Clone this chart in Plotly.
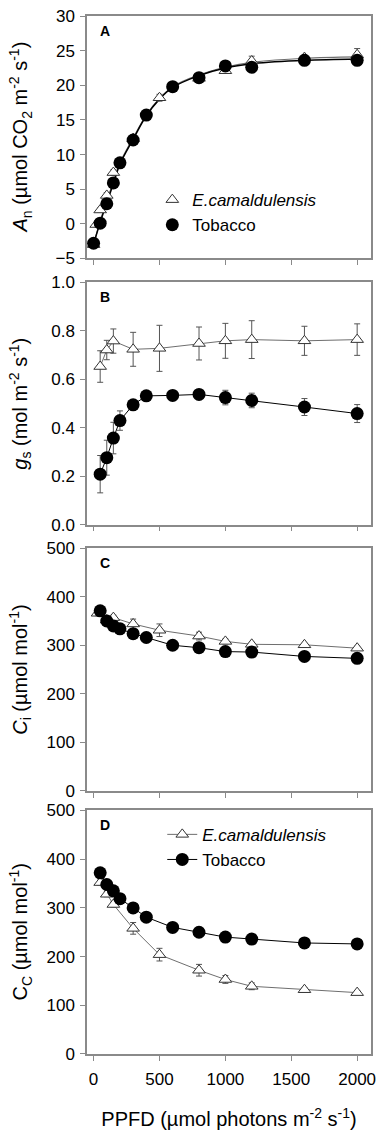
import plotly.graph_objects as go

# ---------------- data ----------------
tick_ppfd = [0, 500, 1000, 1500, 2000]

# Panel A: net assimilation
ppfd_tob_a = [0, 50, 100, 150, 200, 300, 400, 600, 800, 1000, 1200, 1600, 2000]
an_tob = [-2.8, 0.1, 2.9, 5.9, 8.8, 12.1, 15.7, 19.8, 21.1, 22.8, 22.6, 23.6, 23.6]
an_tob_err = [0.3, 0.3, 0.3, 0.3, 0.3, 0.3, 0.3, 0.3, 0.4, 0.4, 0.4, 0.3, 0.3]
ppfd_euc_a = [0, 20, 50, 100, 150, 300, 500, 800, 1000, 1200, 1600, 2000]
an_euc = [-3.0, -0.1, 2.0, 4.1, 7.4, 12.3, 18.2, 21.0, 22.1, 23.5, 24.0, 24.4]
an_euc_err = [0.3, 0.3, 0.3, 0.4, 0.4, 0.4, 0.5, 0.6, 0.4, 0.7, 0.3, 0.9]
# fitted light-response curves
fit_ppfd = [0, 50, 100, 150, 200, 300, 400, 500, 600, 800, 1000, 1200, 1600, 2000]
fit_tob = [-2.9, 0.2, 3.0, 5.8, 8.6, 12.2, 15.6, 18.0, 19.7, 21.4, 22.5, 23.1, 23.6, 23.8]
fit_euc = [-3.0, 0.4, 3.3, 6.1, 8.8, 12.4, 15.7, 18.1, 19.8, 21.5, 22.6, 23.3, 23.9, 24.1]

# Panel B: stomatal conductance
ppfd_tob = [50, 100, 150, 200, 300, 400, 600, 800, 1000, 1200, 1600, 2000]
gs_tob = [0.208, 0.276, 0.357, 0.429, 0.494, 0.531, 0.533, 0.537, 0.524, 0.512, 0.485, 0.458]
gs_tob_err = [0.077, 0.072, 0.065, 0.040, 0.010, 0.010, 0.010, 0.020, 0.030, 0.030, 0.035, 0.037]
ppfd_euc = [50, 100, 150, 300, 500, 800, 1000, 1200, 1600, 2000]
gs_euc = [0.652, 0.720, 0.757, 0.723, 0.727, 0.747, 0.758, 0.763, 0.758, 0.763]
gs_euc_err = [0.065, 0.040, 0.050, 0.070, 0.095, 0.068, 0.072, 0.078, 0.060, 0.065]

# Panel C: intercellular CO2
ci_tob = [371, 350, 340, 334, 324, 316, 300, 295, 287, 286, 277, 273]
ci_tob_err = [3, 3, 3, 3, 3, 3, 3, 3, 4, 5, 7, 7]
ppfd_euc_c = [30, 100, 150, 300, 500, 800, 1000, 1200, 1600, 2000]
ci_euc = [366, 352, 357, 344, 331, 319, 308, 302, 301, 294]
ci_euc_err = [5, 4, 5, 10, 13, 8, 5, 4, 3, 4]

# Panel D: chloroplastic CO2
cc_tob = [372, 348, 335, 319, 300, 281, 260, 250, 240, 236, 228, 226]
cc_tob_err = [3, 3, 3, 3, 3, 3, 3, 3, 3, 3, 3, 3]
cc_euc = [352, 328, 307, 258, 204, 172, 153, 139, 132, 126]
cc_euc_err = [5, 5, 5, 12, 13, 12, 8, 7, 4, 4]

name_euc = "<i>E.camaldulensis</i>"
name_tob = "Tobacco"

# ---------------- styling ----------------
FONT = "Arial, Liberation Sans, Helvetica, sans-serif"
GRAY_LINE = "#6e6e6e"
ERR_COLOR = "#555555"
TRI = dict(symbol="triangle-up", size=11, color="white", line=dict(color="#333333", width=1))
CIR = dict(symbol="circle", size=13, color="black", line=dict(color="black", width=0))

fig = go.Figure()

domains = [(0.7664, 1.0), (0.51, 0.7436), (0.2536, 0.4872), (0.0, 0.2346)]
axn = ["", "2", "3", "4"]


def err(v, color=ERR_COLOR):
    return dict(type="data", array=v, visible=True, color=color, thickness=1, width=3)


# Panel A
fig.add_trace(go.Scatter(x=fit_ppfd, y=fit_euc, mode="lines", line=dict(color=GRAY_LINE, width=1.2, shape="spline"),
                         showlegend=False, xaxis="x", yaxis="y", hoverinfo="skip"))
fig.add_trace(go.Scatter(x=fit_ppfd, y=fit_tob, mode="lines", line=dict(color="black", width=1.5, shape="spline"),
                         showlegend=False, xaxis="x", yaxis="y", hoverinfo="skip"))
fig.add_trace(go.Scatter(x=ppfd_euc_a, y=an_euc, mode="markers", marker=TRI, error_y=err(an_euc_err),
                         name=name_euc, legend="legend", xaxis="x", yaxis="y"))
fig.add_trace(go.Scatter(x=ppfd_tob_a, y=an_tob, mode="markers", marker=CIR, error_y=err(an_tob_err),
                         name=name_tob, legend="legend", xaxis="x", yaxis="y"))

# Panel B
fig.add_trace(go.Scatter(x=ppfd_euc, y=gs_euc, mode="lines+markers", marker=TRI, line=dict(color=GRAY_LINE, width=1),
                         error_y=err(gs_euc_err), showlegend=False, xaxis="x2", yaxis="y2"))
fig.add_trace(go.Scatter(x=ppfd_tob, y=gs_tob, mode="lines+markers", marker=CIR, line=dict(color="black", width=1),
                         error_y=err(gs_tob_err), showlegend=False, xaxis="x2", yaxis="y2"))

# Panel C
fig.add_trace(go.Scatter(x=ppfd_euc_c, y=ci_euc, mode="lines+markers", marker=TRI, line=dict(color=GRAY_LINE, width=1),
                         error_y=err(ci_euc_err), showlegend=False, xaxis="x3", yaxis="y3"))
fig.add_trace(go.Scatter(x=ppfd_tob, y=ci_tob, mode="lines+markers", marker=CIR, line=dict(color="black", width=1),
                         error_y=err(ci_tob_err), showlegend=False, xaxis="x3", yaxis="y3"))

# Panel D
fig.add_trace(go.Scatter(x=ppfd_euc, y=cc_euc, mode="lines+markers", marker=TRI, line=dict(color=GRAY_LINE, width=1),
                         error_y=err(cc_euc_err), name=name_euc, legend="legend2", xaxis="x4", yaxis="y4"))
fig.add_trace(go.Scatter(x=ppfd_tob, y=cc_tob, mode="lines+markers", marker=CIR, line=dict(color="black", width=1),
                         error_y=err(cc_tob_err), name=name_tob, legend="legend2", xaxis="x4", yaxis="y4"))

axis_line = dict(showline=True, linecolor="#8a8a8a", linewidth=1.5, mirror=True, showgrid=False, zeroline=False,
                 ticks="outside", ticklen=5, tickcolor="#8a8a8a", tickwidth=1)

y_ranges = [[-5, 30], [0, 1.0], [0, 500], [0, 500]]
y_dticks = [5, 0.2, 100, 100]
y_formats = ["", ".1f", "", ""]

for i in range(4):
    xa = dict(axis_line, domain=[0, 1], range=[-50, 2105], tickvals=tick_ppfd,
              showticklabels=(i == 3), tickfont=dict(size=17, color="black", family=FONT),
              ticklabelstandoff=4, anchor="y" + axn[i])
    if i == 3:
        xa["title"] = dict(text="PPFD (µmol photons m<sup>-2</sup> s<sup>-1</sup>)",
                           font=dict(size=20, color="black", family=FONT), standoff=24)
    ya = dict(axis_line, domain=list(domains[i]), range=y_ranges[i], dtick=y_dticks[i], tick0=y_ranges[i][0],
              tickformat=y_formats[i], tickfont=dict(size=17, color="black", family=FONT),
              ticklabelstandoff=2, anchor="x" + axn[i])
    fig.layout["xaxis" + axn[i]] = xa
    fig.layout["yaxis" + axn[i]] = ya

y_titles = [
    "<i>A</i><sub>n</sub> (µmol CO<sub>2</sub> m<sup>-2</sup> s<sup>-1</sup>)",
    "<i>g</i><sub>s</sub> (mol m<sup>-2</sup> s<sup>-1</sup>)",
    "<i>C</i><sub>i</sub> (µmol mol<sup>-1</sup>)",
    "C<sub>C</sub> (µmol mol<sup>-1</sup>)",
]
letters = ["A", "B", "C", "D"]
annotations = []
for i in range(4):
    annotations.append(dict(text=y_titles[i], textangle=-90, xref="paper", x=-0.235, xanchor="center",
                            yref="y" + axn[i] + " domain", y=0.5, yanchor="middle", showarrow=False,
                            font=dict(size=20, color="black", family=FONT)))
    annotations.append(dict(text="<b>" + letters[i] + "</b>", xref="x" + axn[i] + " domain", x=0.04, xanchor="left",
                            yref="y" + axn[i] + " domain", y=0.94, yanchor="middle", showarrow=False,
                            font=dict(size=14, color="black", family=FONT)))

fig.update_layout(
    width=383, height=1134,
    margin=dict(l=87, r=7, t=10, b=71),
    paper_bgcolor="white", plot_bgcolor="white",
    font=dict(family=FONT, color="black"),
    annotations=annotations,
    legend=dict(x=0.23, y=0.84, xanchor="left", yanchor="top", bgcolor="rgba(0,0,0,0)",
                font=dict(size=17, color="black", family=FONT), tracegroupgap=0),
    legend2=dict(x=0.265, y=0.2285, xanchor="left", yanchor="top", bgcolor="rgba(0,0,0,0)",
                 font=dict(size=17, color="black", family=FONT), tracegroupgap=0),
)

fig.write_html("out.html", config={"displayModeBar": False},
               post_script="document.body.style.margin='0px';")
